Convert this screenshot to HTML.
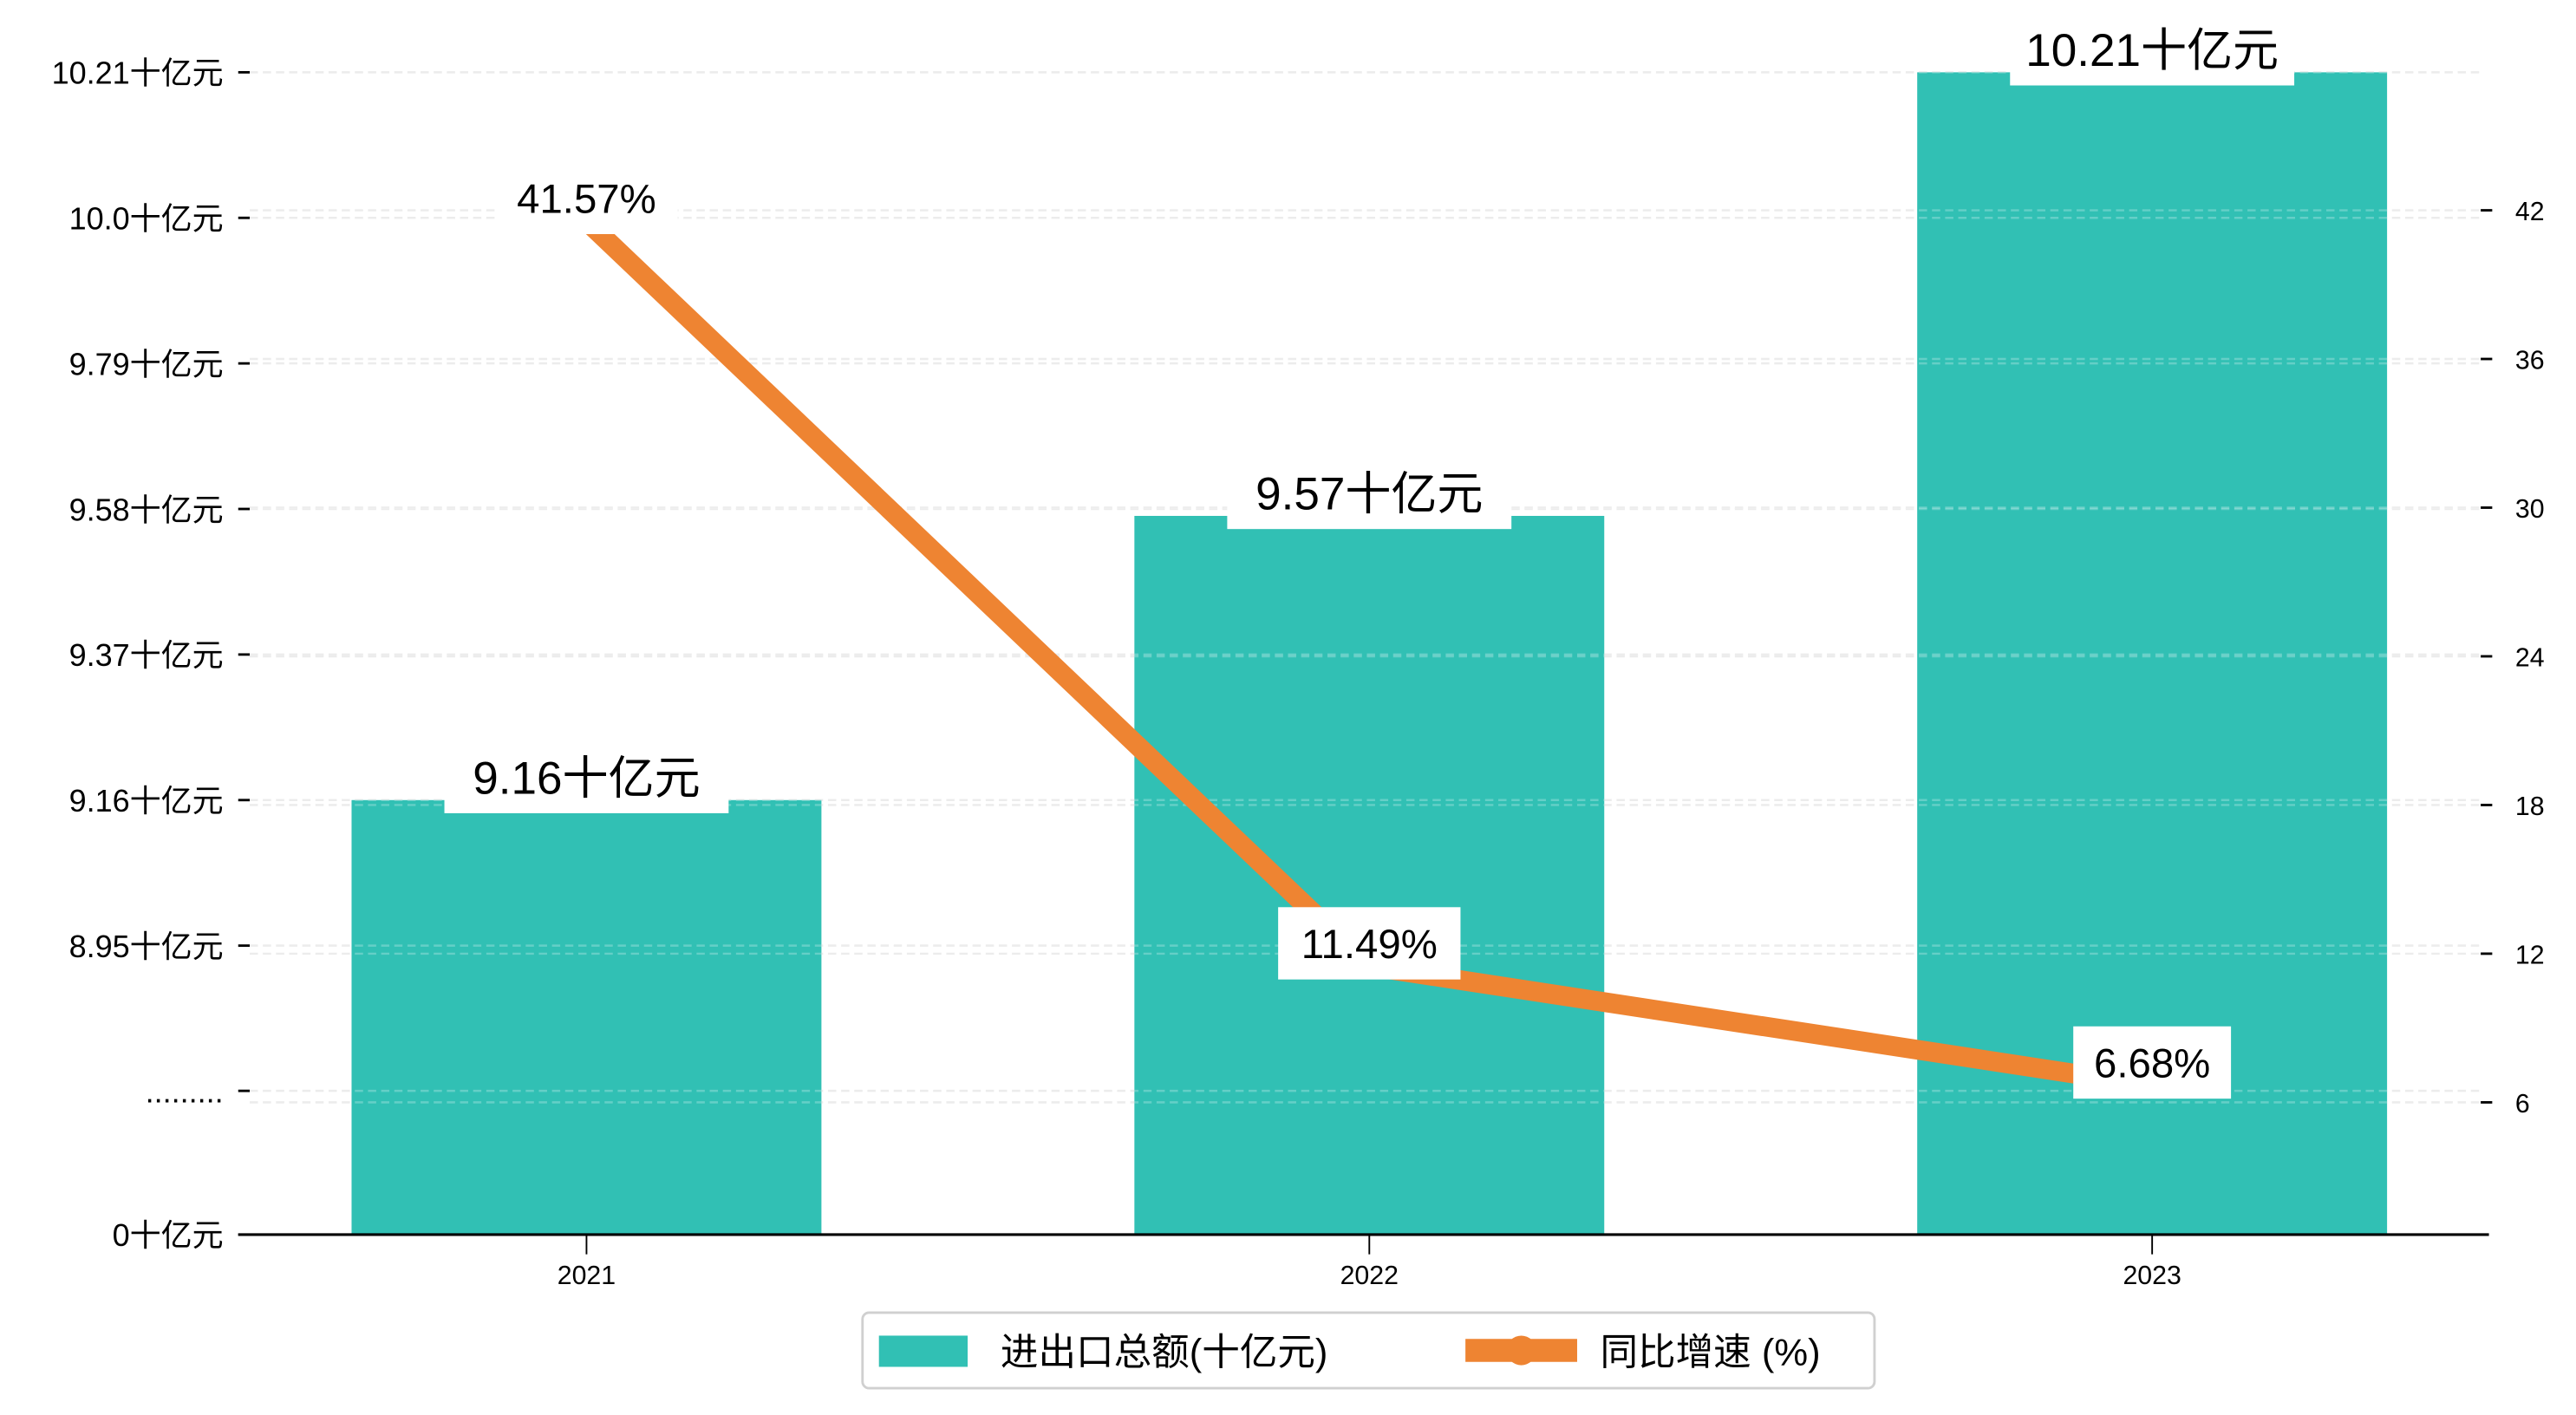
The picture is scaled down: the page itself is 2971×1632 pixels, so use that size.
<!DOCTYPE html>
<html><head><meta charset="utf-8"><style>
html,body{margin:0;padding:0;background:#fff;}
svg{display:block;font-family:"Liberation Sans","WenQuanYi Zen Hei","Noto Sans CJK SC",sans-serif;}
</style></head><body>
<svg id="chart" width="2971" height="1632" viewBox="0 0 1568 861.3" xmlns="http://www.w3.org/2000/svg">
<g id="grid"></g>
<g id="bars"></g>
<g id="grid2"></g>
<g id="line"></g>
<g id="axes"></g>
<g id="labels"></g>
<g>
  <rect x="525" y="799" width="616" height="46" rx="4" fill="#fff" stroke="#d0d0d0" stroke-width="1.5"/>
  <rect x="535" y="813" width="54" height="19" fill="#31C0B4"/>
  <text x="609" y="831" font-size="23">进出口总额(十亿元)</text>
  <line x1="892" y1="822" x2="960" y2="822" stroke="#EE8432" stroke-width="14"/>
  <circle cx="926" cy="822" r="9" fill="#EE8432"/>
  <text x="974" y="831" font-size="23">同比增速 (%)</text>
</g>
</svg>
<script>
const categories = ["2021","2022","2023"];
const totals = [9.16, 9.57, 10.21];
const growth = [41.57, 11.49, 6.68];
const leftTickValues = [8.95, 9.16, 9.37, 9.58, 9.79, 10.0, 10.21];
const leftTickLabels = ["8.95十亿元","9.16十亿元","9.37十亿元","9.58十亿元","9.79十亿元","10.0十亿元","10.21十亿元"];
const rightTicks = [6, 12, 18, 24, 30, 36, 42];

const NS = "http://www.w3.org/2000/svg";
const X0 = 145, X1 = 1515, BASE = 751.5;
function xPos(i){ return 357 + i * 476.5; }
function yLeft(v){ return 487 - (v - 9.16) * (88.6 / 0.21); }
function yRight(v){ return 309 - (v - 30) * (90.5 / 6); }
function el(tag, attrs, parent){ const e = document.createElementNS(NS, tag); for (const k in attrs) e.setAttribute(k, attrs[k]); parent.appendChild(e); return e; }

const grid = document.getElementById('grid'), grid2 = document.getElementById('grid2');
const bars = document.getElementById('bars'), line = document.getElementById('line');
const axes = document.getElementById('axes'), labels = document.getElementById('labels');

const gys = leftTickValues.map(yLeft).concat([664]).concat(rightTicks.map(yRight));
gys.forEach(y => {
  [grid, grid2].forEach((g, k) => {
    const l = el('line', {x1: 152, x2: 1510, y1: y, y2: y, stroke: k ? '#ffffff' : '#e6e6e6', 'stroke-width': 1.3, 'stroke-dasharray': '5 3', opacity: k ? 0.25 : 1}, g);
    
    
  });
});

categories.forEach((c, i) => {
  const top = yLeft(totals[i]);
  const r = el('rect', {x: xPos(i) - 143, y: top, width: 286, height: BASE - top, fill: '#31C0B4'}, bars);
  
  
});

const pts = growth.map((v, i) => xPos(i) + ',' + yRight(v)).join(' ');
const pl = el('polyline', {points: pts, fill: 'none', stroke: '#EE8432', 'stroke-width': 12, 'stroke-linejoin': 'round'}, line);



const ax = el('line', {x1: X0, x2: X1, y1: BASE, y2: BASE, stroke: '#000', 'stroke-width': 1.6}, axes);


categories.forEach((c, i) => {
  el('line', {x1: xPos(i), x2: xPos(i), y1: BASE, y2: BASE + 12, stroke: '#000', 'stroke-width': 1}, axes);
  const t = el('text', {x: xPos(i), y: BASE + 30, 'font-size': 16, 'text-anchor': 'middle'}, axes);
  t.textContent = c;
  
  
});
const leftAll = leftTickValues.map((v, i) => [yLeft(v), leftTickLabels[i]]).concat([[664, '.........'], [BASE, '0十亿元']]);
leftAll.forEach(([y, s]) => {
  el('line', {x1: 145, x2: 152, y1: y, y2: y, stroke: '#000', 'stroke-width': 1.5}, axes);
  const t = el('text', {x: 136, y: y + 7, 'font-size': 19, 'text-anchor': 'end'}, axes);
  t.textContent = s;
  
  
});
rightTicks.forEach(v => {
  const y = yRight(v);
  el('line', {x1: 1510, x2: 1517, y1: y, y2: y, stroke: '#000', 'stroke-width': 1.5}, axes);
  const t = el('text', {x: 1531, y: y + 6, 'font-size': 16}, axes);
  t.textContent = v;
  
  
});

function label(x, y, s, w, h, fs, name){
  const g = el('g', {}, labels);
  
  
  el('rect', {x: x - w / 2, y: y - h / 2, width: w, height: h, fill: '#fff'}, g);
  const t = el('text', {x: x, y: y + fs * 0.36, 'font-size': fs, 'text-anchor': 'middle'}, g);
  t.textContent = s;
}
totals.forEach((v, i) => {
  const s = v.toFixed(2) + '十亿元';
  label(xPos(i), yLeft(v) - 14, s, s.length > 8 ? 188 : 173, 44, 28, 'bar-value-label');
});
growth.forEach((v, i) => {
  const s = v.toFixed(2) + '%';
  label(xPos(i), yRight(v) - 14, s, s.length > 5 ? 111 : 96, 44, 25, 'growth-value-label');
});
</script>
</body></html>
